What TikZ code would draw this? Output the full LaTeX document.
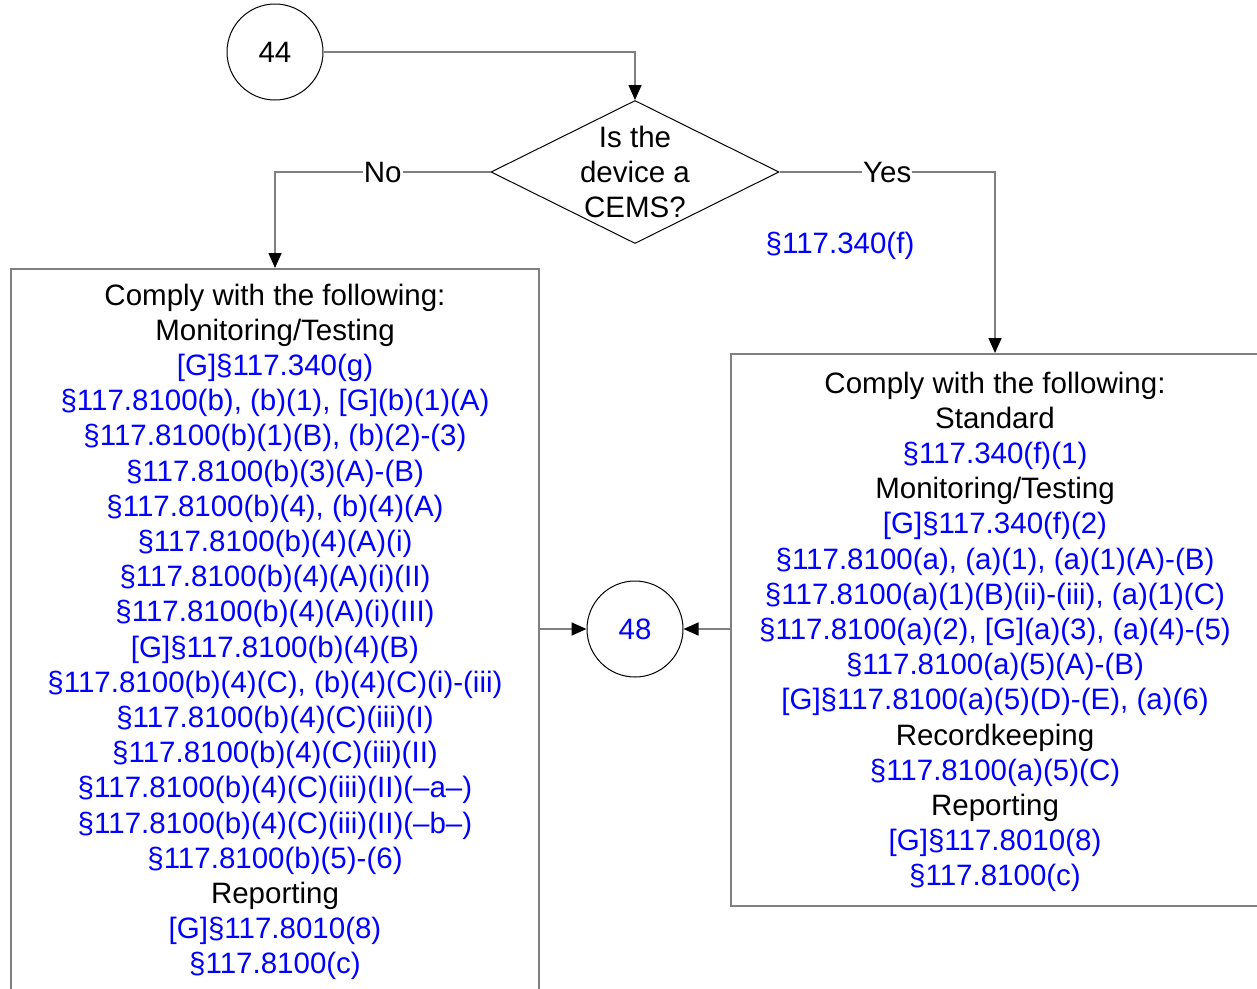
\documentclass[tikz,border=0pt]{standalone}
\usepackage{fontspec}
\setmainfont{Liberation Sans}
\usetikzlibrary{shapes.geometric,arrows.meta}
\definecolor{refblue}{RGB}{0,0,255}
\definecolor{linegray}{RGB}{128,128,128}
\newcommand{\rf}[1]{\textcolor{refblue}{#1}}

\begin{document}
\begin{tikzpicture}[x=1pt,y=-1pt,
		font=\fontsize{29.5}{35.2}\selectfont,
		conn/.style={draw=linegray,line width=1.6pt},
		arr/.style={conn,-{Triangle[length=15pt,width=13pt,color=black]}},
		onpage/.style={circle,draw,line width=1pt,minimum size=96pt,inner sep=0pt},
		decision/.style={diamond,draw,line width=1pt,minimum width=288pt,minimum height=143pt,inner sep=0pt},
		listbox/.style={draw=linegray,line width=1.6pt,minimum width=528pt,inner sep=0pt,anchor=north},
		listtext/.style={align=center,inner sep=0pt,anchor=north}]
		\useasboundingbox (0,0) rectangle (1257,988);
		\clip (0,0) rectangle (1257,988);
		
		\node[onpage] (c44) at (275,52) {44};
		\node[decision] (q) at (635,172) {};
		\node[align=center,inner sep=0pt] (qtext) at (q) {Is the\\device a\\CEMS?};
		\node[listbox,minimum height=740pt] (lbox) at (275,268) {};
		\node[listbox,minimum height=552pt] (rbox) at (995,353) {};
		\node[onpage,text=refblue] (c48) at (635,629) {48};
		
		% left list (No)
		\node[listtext] (ltext) at ([yshift=-15.5pt]lbox.north) {Comply with the following:\\
			Monitoring/Testing\\
			\rf{[G]§117.340(g)}\\
			\rf{§117.8100(b), (b)(1), [G](b)(1)(A)}\\
			\rf{§117.8100(b)(1)(B), (b)(2)-(3)}\\
			\rf{§117.8100(b)(3)(A)-(B)}\\
			\rf{§117.8100(b)(4), (b)(4)(A)}\\
			\rf{§117.8100(b)(4)(A)(i)}\\
			\rf{§117.8100(b)(4)(A)(i)(II)}\\
			\rf{§117.8100(b)(4)(A)(i)(III)}\\
			\rf{[G]§117.8100(b)(4)(B)}\\
			\rf{§117.8100(b)(4)(C), (b)(4)(C)(i)-(iii)}\\
			\rf{§117.8100(b)(4)(C)(iii)(I)}\\
			\rf{§117.8100(b)(4)(C)(iii)(II)}\\
			\rf{§117.8100(b)(4)(C)(iii)(II)(–a–)}\\
			\rf{§117.8100(b)(4)(C)(iii)(II)(–b–)}\\
			\rf{§117.8100(b)(5)-(6)}\\
			Reporting\\
			\rf{[G]§117.8010(8)}\\
			\rf{§117.8100(c)}};
		
		% right list (Yes)
		\node[listtext] (rtext) at ([yshift=-18.5pt]rbox.north) {Comply with the following:\\
			Standard\\
			\rf{§117.340(f)(1)}\\
			Monitoring/Testing\\
			\rf{[G]§117.340(f)(2)}\\
			\rf{§117.8100(a), (a)(1), (a)(1)(A)-(B)}\\
			\rf{§117.8100(a)(1)(B)(ii)-(iii), (a)(1)(C)}\\
			\rf{§117.8100(a)(2), [G](a)(3), (a)(4)-(5)}\\
			\rf{§117.8100(a)(5)(A)-(B)}\\
			\rf{[G]§117.8100(a)(5)(D)-(E), (a)(6)}\\
			Recordkeeping\\
			\rf{§117.8100(a)(5)(C)}\\
			Reporting\\
			\rf{[G]§117.8010(8)}\\
			\rf{§117.8100(c)}};
		
		\node[text=refblue,inner sep=0pt] (cite) at (840,246) {§117.340(f)};
		
		\draw[arr] (c44.east) -| (q.north);
		\draw[arr] (q.west) -| node[pos=0.25,fill=white,inner sep=1pt] (no) {No} (lbox.north);
		\draw[arr] (q.east) -| node[pos=0.25,fill=white,inner sep=1pt] (yes) {Yes} (rbox.north);
		\draw[arr] (c48 -| lbox.east) -- (c48.west);
		\draw[arr] (c48 -| rbox.west) -- (c48.east);
	\end{tikzpicture}
\end{document}
